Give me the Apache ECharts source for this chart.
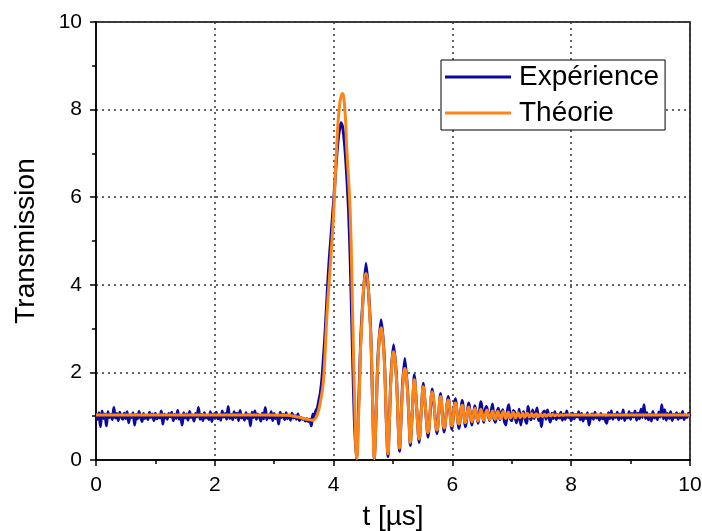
<!DOCTYPE html>
<html>
<head>
<meta charset="utf-8">
<script src="https://cdn.jsdelivr.net/npm/echarts@6/dist/echarts.min.js"></script>
<style>html,body{margin:0;padding:0;background:#fff}#c{width:702px;height:531px}</style>
</head>
<body>
<div id="c"></div>
<script>
// ---- Data ----
const seriesNames = ['Expérience', 'Théorie'];
const xTicks = [0, 2, 4, 6, 8, 10];
const yTicks = [0, 2, 4, 6, 8, 10];

// Experimental baseline samples, t = 0 .. 3.6 µs, every 0.025 µs
const expBaseStart = 0, expBaseStep = 0.025;
const expBaseline = [
 1.02,0.93,1.08,0.76,1.12,0.95,1.05,0.78,1.10,0.97,
 1.04,0.92,1.20,0.96,1.06,0.90,1.09,0.99,0.93,1.07,
 0.95,1.10,0.85,1.03,0.97,1.08,0.80,1.04,0.94,1.11,
 0.98,0.88,1.06,0.95,1.02,0.92,1.09,0.97,1.05,0.90,
 1.07,0.94,1.03,0.96,1.12,0.82,1.05,0.98,0.93,1.06,
 0.99,1.09,0.90,1.04,0.95,1.13,0.93,1.02,0.80,1.08,
 0.96,1.05,0.91,1.11,0.97,1.03,0.89,1.06,0.98,1.20,
 0.93,1.04,0.90,1.08,0.96,1.02,0.92,1.10,0.88,1.05,
 0.97,1.09,0.94,1.03,0.91,1.12,0.98,1.06,0.93,1.22,
 0.95,1.04,0.92,1.10,0.97,1.07,0.90,1.13,0.96,1.02,
 0.91,1.08,0.95,1.04,0.78,1.09,0.97,1.12,0.93,1.05,
 0.99,0.89,1.07,0.94,1.20,0.92,1.03,0.96,1.10,0.90,
 1.06,0.95,1.02,0.82,1.09,0.97,1.04,0.92,1.08,0.94,
 1.03,0.91,1.07,0.96,1.01,0.93,1.05,0.90,0.97,0.93,
 0.95,0.89,0.94,0.88,0.93
];

// Experimental pulse (t in µs, transmission)
const expPulseT = [3.625,3.65,3.675,3.70,3.725,3.75,3.775,3.80,3.825,3.85,3.875,3.90,3.925,3.95,3.975,4.00,4.025,4.05,4.075,4.10,4.125,4.15,4.175,4.20,4.225,4.25,4.275,4.30,4.325,4.35,4.385,
 4.425,4.465,4.545,4.62,4.655,4.685,
 4.715,4.745,4.80,4.855,4.885,4.915,
 4.94,4.965,5.01,5.06,5.085,5.11,
 5.135,5.16,5.20,5.245,5.27,5.29,
 5.325,5.36,5.40,5.44,5.475,5.51,5.55,5.59,
 5.66,5.74,5.80,5.86,5.93,5.99,6.05,6.11,6.165,6.22,6.275,6.33,6.38,6.43,6.48,6.53];
const expPulseV = [0.78,1.05,0.97,1.12,1.18,1.35,1.52,1.80,2.25,2.75,3.35,4.00,4.55,5.00,5.45,5.90,6.40,6.90,7.30,7.55,7.70,7.62,7.35,6.95,6.40,5.75,4.80,3.50,2.10,0.90,0.02,
 1.4,3.0,4.49,3.1,1.4,0.02,
 1.0,2.3,3.20,2.3,1.0,0.08,
 0.9,1.9,2.63,1.85,0.9,0.20,
 0.9,1.7,2.32,1.6,0.9,0.33,
 1.1,1.94,1.15,0.40,1.1,1.75,1.12,0.52,
 1.62,0.60,1.52,0.64,1.45,0.70,1.40,0.72,1.36,0.76,1.30,0.80,1.24,0.84,1.33,0.86];

// Experimental tail samples, t = 6.55 .. 10 µs, every 0.025 µs
const expTailStart = 6.55, expTailStep = 0.025;
const expTail = [
 1.12,1.22,1.05,0.90,1.08,1.28,0.95,0.86,1.10,1.18,
 0.92,1.06,1.15,0.88,0.80,1.12,1.26,0.94,0.90,1.13,
 1.08,0.85,0.96,1.16,0.80,1.02,1.10,0.93,0.84,1.22,
 1.00,0.92,1.14,0.95,1.05,1.19,0.90,0.98,0.76,1.08,
 1.12,0.93,1.14,0.97,0.87,1.07,0.95,1.10,0.92,1.04,
 0.96,1.09,0.91,1.05,0.93,1.12,0.97,1.03,0.90,1.07,
 0.94,1.04,0.98,1.10,0.92,1.06,0.89,1.02,0.95,1.08,
 0.80,0.97,1.05,0.93,1.09,0.96,1.02,0.91,1.06,0.94,
 1.03,0.90,0.84,1.08,0.95,1.12,0.93,1.04,0.97,1.09,
 0.92,1.05,0.95,1.14,0.90,1.03,0.96,1.10,0.93,1.06,
 0.98,1.12,0.91,1.07,0.94,1.16,0.97,1.26,0.95,1.08,
 0.92,1.04,0.89,1.11,0.96,1.03,0.92,1.09,0.98,1.26,
 0.94,1.15,0.91,1.06,0.95,1.10,0.90,1.04,0.97,1.08,
 0.93,1.05,0.96,1.11,0.92,1.03,0.97,1.07,1.00
];

// Theory curve (t in µs, transmission)
const theoT = [0,1.5,2.8,3.2,3.4,3.55,3.65,3.72,3.78,3.83,3.89,3.95,4.0,4.05,4.1,4.147,4.19,4.22,4.28,4.32,4.355,4.39,
 4.43,4.47,4.545,4.62,4.655,4.685,
 4.715,4.745,4.80,4.855,4.885,4.915,
 4.94,4.965,5.01,5.06,5.085,5.11,
 5.135,5.16,5.20,5.245,5.27,5.29,
 5.325,5.36,5.40,5.44,5.475,5.51,5.55,5.59,
 5.66,5.74,5.80,5.86,5.93,5.99,6.05,6.11,6.165,6.22,6.275,6.33,6.38,6.43,6.48,6.53,6.58,6.63,6.675,6.72,6.765,6.81,6.855,6.90,6.94,6.98,
 7.025,7.065,7.105,7.145,7.185,7.22,7.26,7.30,7.335,7.37,7.41,7.445,7.48,7.515,7.55,7.585,7.62,7.655,7.69,7.725,7.76,7.795,7.83,7.86,7.895,8.0,9.0,10.0];
const theoV = [1.03,1.03,1.03,1.02,0.98,0.93,0.91,1.02,1.35,1.83,3.35,4.55,5.63,7.1,8.1,8.37,8.0,7.15,5.63,3.35,1.3,0.03,
 1.4,3.0,4.26,3.0,1.4,0.03,
 1.0,2.2,3.02,2.2,1.0,0.14,
 0.9,1.8,2.47,1.8,0.9,0.27,
 0.9,1.6,2.09,1.55,0.9,0.40,
 1.1,1.83,1.15,0.48,1.08,1.67,1.14,0.62,
 1.55,0.68,1.45,0.73,1.37,0.78,1.30,0.82,1.25,0.85,1.21,0.87,1.18,0.89,1.16,0.905,1.14,0.92,1.12,0.93,1.11,0.94,1.10,0.95,1.09,0.96,
 1.085,0.965,1.08,0.97,1.07,0.975,1.065,0.98,1.06,0.985,1.055,0.99,1.05,0.995,1.045,1.0,1.04,1.005,1.04,1.01,1.035,1.015,1.035,1.02,1.03,1.03,1.03,1.03];

// ---- Build series data ----
const expData = [];
expBaseline.forEach((v, i) => expData.push([+(expBaseStart + i * expBaseStep).toFixed(4), v]));
expPulseT.forEach((t, i) => expData.push([t, expPulseV[i]]));
expTail.forEach((v, i) => expData.push([+(expTailStart + i * expTailStep).toFixed(4), v]));
const theoData = theoT.map((t, i) => [t, theoV[i]]);

const FONT = 'Liberation Sans';
const BLUE = '#0a0a9e', ORANGE = '#ff8418';
const chart = echarts.init(document.getElementById('c'), null, {renderer: 'canvas'});
const axisCommon = {
  min: 0, max: 10, interval: 2,
  axisLine: {show: true, onZero: false, lineStyle: {color: '#000', width: 1.5}},
  axisTick: {show: true, inside: false, length: 6, lineStyle: {color: '#000', width: 1.5}},
  minorTick: {show: true, splitNumber: 2, length: 4, lineStyle: {color: '#000', width: 1.5}},
  splitLine: {show: true, lineStyle: {type: [2, 4], color: '#333', width: 1.5}},
  minorSplitLine: {show: false},
  nameMoveOverlap: false
};
chart.setOption({
  animation: false,
  backgroundColor: '#fff',
  grid: {left: 96, right: 12, top: 22, bottom: 71, show: true, borderColor: '#000', borderWidth: 1.5, containLabel: false, outerBoundsMode: 'none'},
  legend: {
    data: [{name: seriesNames[0], icon: 'rect', itemStyle: {color: BLUE}}, {name: seriesNames[1], icon: 'rect', itemStyle: {color: ORANGE}}],
    orient: 'vertical', left: 441, top: 60,
    itemWidth: 66, itemHeight: 3, itemGap: 6,
    padding: [2, 6, 2, 4], borderColor: '#000', borderWidth: 1, borderRadius: 0, backgroundColor: '#fff',
    textStyle: {fontFamily: FONT, fontSize: 28, color: '#000', lineHeight: 30, padding: [0, 0, 0, 3]}
  },
  xAxis: Object.assign({}, axisCommon, {
    type: 'value', position: 'bottom',
    name: 't [µs]', nameLocation: 'middle', nameGap: 43,
    nameTextStyle: {fontFamily: FONT, fontSize: 28, color: '#000'},
    axisLabel: {show: true, margin: 15, fontFamily: FONT, fontSize: 21, color: '#000', showMinLabel: true, showMaxLabel: true,
      formatter: v => xTicks.includes(v) ? String(v) : ''}
  }),
  yAxis: Object.assign({}, axisCommon, {
    type: 'value', position: 'left',
    name: 'Transmission', nameLocation: 'middle', nameGap: 56,
    nameTextStyle: {fontFamily: FONT, fontSize: 28, color: '#000'},
    axisLabel: {show: true, margin: 14, fontFamily: FONT, fontSize: 21, color: '#000', showMinLabel: true, showMaxLabel: true,
      formatter: v => yTicks.includes(v) ? String(v) : ''}
  }),
  series: [
    {name: seriesNames[0], type: 'line', data: expData, symbol: 'none', smooth: 0.2,
     lineStyle: {color: BLUE, width: 3}, itemStyle: {color: BLUE}, clip: true, z: 2},
    {name: seriesNames[1], type: 'line', data: theoData, symbol: 'none', smooth: 0.5,
     lineStyle: {color: ORANGE, width: 3}, itemStyle: {color: ORANGE}, clip: true, z: 3}
  ]
});
</script>
</body>
</html>
